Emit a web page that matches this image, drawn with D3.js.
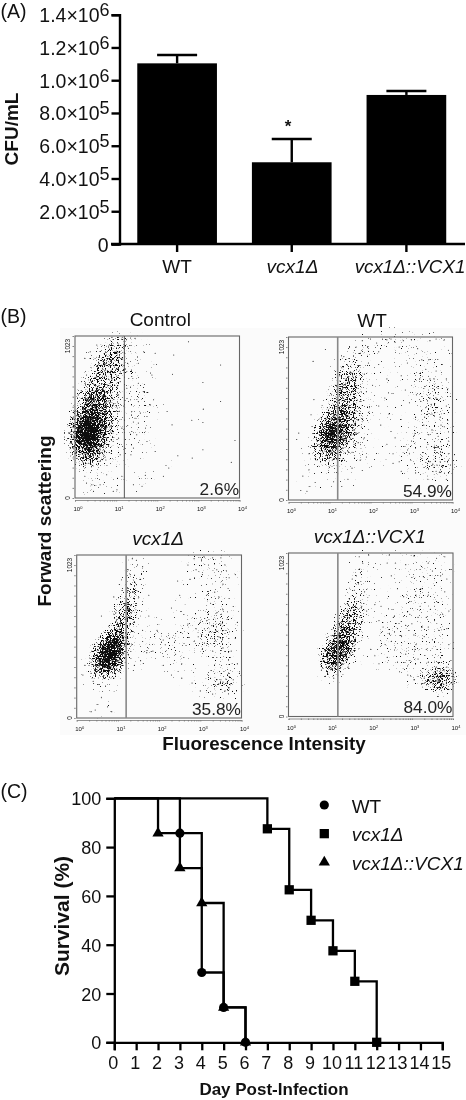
<!DOCTYPE html>
<html>
<head>
<meta charset="utf-8">
<script src="https://cdn.jsdelivr.net/npm/d3@7"></script>
<style>
html, body { margin: 0; padding: 0; background: #fff; }
svg { display: block; filter: blur(0.35px); }
text { font-family: "Liberation Sans", Arial, sans-serif; fill: #111; }
</style>
</head>
<body>
<div id="chart"></div>
<script>
// (A) colony counts
var strains = ["WT", "vcx1Δ", "vcx1Δ::VCX1"];
var cfuMeans = [1103000, 499000, 910000];
var cfuErrors = [51000, 142000, 24000];
var cfuTicks = [0, 200000, 400000, 600000, 800000, 1000000, 1200000, 1400000];
var cfuTickLabels = ["0", "2.0×10|5", "4.0×10|5", "6.0×10|5", "8.0×10|5", "1.0×10|6", "1.2×10|6", "1.4×10|6"];

// (B) flow cytometry, [log10 fluorescence, forward scatter channel]
// not every event can be read, so these are estimates of the visible dots:
// "core" traces the dense cloud (drawn as density), "dots" the loose events
var facsTitles = ["Control", "WT", "vcx1Δ", "vcx1Δ::VCX1"];
var facsPercents = ["2.6%", "54.9%", "35.8%", "84.0%"];
var controlCore = [[0.12,330],[0.20,300],[0.30,270],[0.40,290],[0.15,400],[0.25,380],[0.35,400],[0.45,370],[0.55,340],[0.10,450],[0.20,470],[0.30,450],[0.32,420],[0.28,400],[0.38,450],[0.50,430],[0.62,400],[0.25,520],[0.35,510],[0.45,500],[0.55,480],[0.70,450],[0.30,570],[0.42,570],[0.55,560],[0.68,530],[0.38,620],[0.50,630],[0.62,620],[0.80,570],[0.48,680],[0.60,700],[0.72,680],[0.90,640],[0.60,760],[0.72,780],[0.85,740],[0.72,840],[0.85,860],[0.98,820],[0.85,930],[0.98,960],[1.10,900],[1.00,1000],[0.28,440],[0.33,430],[0.24,410],[0.36,380],[0.30,340],[0.18,360],[0.42,460],[0.75,560],[0.85,500],[0.95,450],[0.65,350],[0.5,290],[0.8,420],[0.1,300],[0.05,420],[0.05,360],[0.7,620],[0.95,720],[1.05,800],[1.1,960],[1.0,880],[0.8,800],[0.7,900],[0.55,640],[0.4,520],[0.15,250],[0.3,220],[0.45,240],[0.6,280],[0.08,520],[0.15,580],[0.22,650],[0.32,720],[0.42,790],[0.55,850]];
var controlDots = [[2.76,987],[2.40,903],[3.54,840],[2.37,781],[3.11,729],[3.54,609],[3.12,561],[2.84,491],[3.11,477],[2.36,462],[2.24,546],[3.89,363],[3.11,305],[2.85,252],[3.80,225],[2.50,267],[2.28,189],[2.15,137],[1.71,143],[1.63,74],[1.42,84],[1.87,777],[1.95,914],[1.67,924],[1.46,1008],[1.30,945],[1.54,851],[1.38,767],[1.26,693],[1.54,725],[1.67,672],[1.30,609],[1.54,609],[1.91,620],[1.83,588],[1.38,546],[1.75,515],[1.59,536],[1.46,504],[1.54,473],[1.38,420],[1.75,357],[1.42,315],[1.36,273],[1.50,399],[1.95,294],[0.28,94],[0.41,84],[0.77,147],[0.93,42],[1.02,52],[1.14,137],[0.45,42],[0.24,137],[0.61,84],[1.10,273],[1.06,378],[0.98,504],[1.14,441],[0.93,588],[1.06,651],[1.10,735],[1.02,819],[1.14,882],[0.61,231],[0.69,273],[0.89,294],[0.77,378],[0.93,357],[0.08,651],[0.16,735],[0.24,882],[0.28,777],[0.53,966],[0.37,924],[1.25,1000],[1.35,1010],[1.15,1015],[0.9,1015],[1.28,850],[1.35,620],[1.42,480],[0.05,250],[0.03,380],[0.05,520],[0.75,240],[0.85,450],[1.02,700]];
var wtCore = [[0.8,300],[0.95,280],[1.1,260],[1.2,290],[0.75,370],[0.9,360],[1.05,350],[1.2,350],[1.35,340],[0.8,430],[0.95,430],[1.05,430],[1.1,410],[1.0,400],[1.2,430],[1.35,420],[0.95,490],[1.08,480],[1.2,490],[1.35,480],[1.5,470],[1.05,540],[1.2,550],[1.35,540],[1.5,530],[1.15,600],[1.28,610],[1.42,600],[1.55,580],[1.3,660],[1.42,670],[1.55,650],[1.4,730],[1.52,740],[1.65,710],[1.5,800],[1.6,820],[1.72,780],[1.02,440],[1.08,390],[0.98,370],[1.12,450],[0.7,300],[1.45,370],[1.5,420],[0.85,240],[1.25,240],[1.6,500],[1.65,620],[1.2,700],[1.35,800],[1.6,900],[1.7,960],[1.45,880]];
var wtDots = [[0.3,60],[0.45,55],[0.65,110],[0.35,150],[0.5,190],[0.2,380],[0.25,420],[0.55,535],[0.62,630],[0.6,870],[0.9,945],[0.75,335],[0.5,290],[0.65,260],[1.1,115],[1.2,165],[1.3,85],[1.45,130],[1.55,200],[1.8,185],[1.75,250],[1.9,270],[1.7,360],[1.85,390],[1.6,440],[1.8,510],[1.95,550],[1.75,620],[1.9,680],[2.05,720],[1.85,790],[1.95,860],[1.75,920],[1.65,960],[1.8,1000],[2.0,1010],[2.15,985],[2.2,930],[2.2,850],[2.4,760],[2.35,640],[2.2,590],[2.45,540],[2.25,470],[2.5,430],[2.4,350],[2.6,390],[2.55,290],[2.7,240],[2.55,230],[2.75,180],[2.95,290],[3.0,370],[3.05,400],[3.1,520],[2.95,610],[2.85,690],[2.75,780],[2.9,860],[2.7,960],[2.8,1000],[3.0,1005],[3.15,950],[3.25,880],[3.35,820],[3.2,760],[3.3,700],[3.45,760],[3.6,810],[3.75,850],[3.9,940],[3.85,760],[3.75,700],[3.6,640],[3.45,640],[3.35,580],[3.5,540],[3.7,520],[3.85,590],[3.95,650],[3.3,470],[3.5,440],[3.65,400],[3.8,460],[3.9,370],[3.4,350],[3.55,330],[3.75,300],[3.9,290],[3.25,260],[3.35,235],[3.45,240],[3.52,225],[3.58,245],[3.62,220],[3.7,240],[3.55,205],[3.78,215],[3.9,250],[3.95,220],[3.1,170],[3.4,130],[3.6,180],[3.85,130],[2.4,1005],[2.5,1010],[2.6,990],[3.45,1000],[3.6,1010],[3.8,1005],[1.55,300],[1.6,350],[1.65,420],[1.7,500],[1.65,560],[1.7,700],[1.3,830],[1.35,900],[1.25,780],[1.15,720],[1.05,660],[0.95,580],[3.42,880],[3.52,700],[3.22,620],[3.62,580],[3.32,520],[3.42,410],[3.12,660],[3.72,470],[3.48,600],[3.65,700],[3.55,760]];
var vcxCore = [[0.55,300],[0.65,290],[0.75,300],[0.5,340],[0.62,350],[0.72,340],[0.85,340],[0.6,390],[0.7,400],[0.8,390],[0.92,380],[0.75,440],[0.85,450],[0.95,430],[1.03,420],[0.85,500],[0.95,500],[1.05,490],[1.12,470],[0.95,550],[1.05,560],[1.15,540],[1.05,610],[1.15,620],[1.25,600],[1.2,680],[1.28,670],[1.3,740],[1.36,760],[1.42,820],[0.7,360],[0.78,370],[0.68,330],[0.88,420],[0.82,420],[1.35,860],[1.45,900],[1.5,960],[1.25,720],[1.12,660],[0.75,380],[0.8,430],[0.72,410],[0.85,470],[0.9,470]];
var vcxDots = [[0.2,330],[0.15,270],[0.35,350],[0.35,280],[0.4,230],[0.55,210],[0.7,200],[0.9,250],[0.6,130],[0.45,50],[0.75,70],[0.85,40],[0.35,40],[1.05,300],[1.18,350],[1.25,400],[1.4,330],[1.55,360],[1.7,410],[1.85,420],[1.6,480],[1.5,530],[1.4,600],[1.6,550],[1.75,640],[1.5,760],[1.55,870],[1.6,950],[1.45,990],[1.35,1000],[1.3,900],[0.9,760],[0.6,640],[0.95,660],[1.1,800],[1.25,930],[1.75,770],[1.95,550],[2.1,490],[2.15,460],[2.25,500],[2.4,530],[2.3,430],[2.4,400],[2.6,380],[2.55,340],[2.1,330],[2.3,270],[2.55,250],[2.8,220],[3.0,170],[2.85,480],[2.9,560],[3.0,600],[2.95,510],[3.05,430],[3.1,560],[3.15,610],[3.1,470],[3.2,650],[3.22,540],[3.25,500],[3.28,580],[3.3,420],[3.32,620],[3.35,480],[3.38,550],[3.4,380],[3.4,660],[3.45,510],[3.5,590],[3.55,440],[3.55,680],[3.6,530],[3.65,620],[3.7,750],[3.25,720],[3.15,770],[3.35,790],[3.45,760],[3.55,840],[3.7,880],[3.85,900],[3.6,960],[3.4,930],[3.2,960],[3.05,900],[2.9,930],[2.75,870],[2.7,960],[2.85,1000],[3.1,1010],[3.3,1005],[3.5,1005],[3.8,700],[3.9,600],[3.85,500],[3.75,420],[3.9,340],[3.95,280],[3.8,240],[3.7,190],[3.6,170],[3.55,225],[3.45,215],[3.5,240],[3.58,210],[3.62,245],[3.65,220],[3.4,240],[3.35,210],[3.7,260],[3.3,150],[2.3,690],[2.5,770],[2.6,650],[2.45,860],[2.7,590]];
var compCore = [[0.95,320],[1.05,310],[1.15,300],[0.92,370],[1.02,370],[1.12,370],[1.22,360],[1.1,420],[1.2,420],[1.3,410],[1.38,400],[1.22,470],[1.32,470],[1.42,460],[1.3,530],[1.4,530],[1.5,510],[1.42,600],[1.5,600],[1.58,590],[1.5,660],[1.58,670],[1.65,640],[1.62,730],[1.7,740],[1.68,800],[1.75,860],[1.72,930],[3.5,225],[3.6,240],[3.65,215],[3.72,235],[3.78,255],[3.82,220],[3.7,195],[3.88,250],[3.6,275],[3.42,215],[1.2,400],[1.25,440],[1.3,490],[1.35,500],[1.45,560],[1.15,390],[1.08,350],[1.55,640]];
var compDots = [[0.8,290],[0.85,350],[0.95,270],[1.1,240],[1.2,260],[1.3,330],[1.45,310],[1.55,400],[1.6,470],[1.55,540],[1.7,580],[1.45,700],[1.6,790],[1.7,830],[1.65,880],[1.75,900],[1.8,960],[1.72,1000],[1.55,860],[1.35,660],[1.25,560],[1.85,780],[1.9,660],[1.78,690],[2.1,700],[2.25,690],[2.2,600],[2.3,560],[2.45,520],[2.5,470],[2.6,430],[2.35,450],[2.1,380],[2.0,420],[2.2,330],[2.4,370],[2.65,340],[2.85,390],[2.95,350],[2.7,280],[2.9,260],[3.05,230],[3.15,250],[2.55,620],[2.65,550],[2.75,500],[2.85,570],[2.95,640],[3.0,580],[3.05,510],[3.1,450],[3.15,620],[3.2,690],[3.25,560],[3.3,500],[3.35,420],[3.35,620],[3.4,560],[3.45,670],[3.5,480],[3.55,600],[3.6,720],[3.65,540],[3.7,400],[3.75,640],[3.8,780],[3.85,550],[3.9,450],[3.95,350],[3.9,660],[3.85,860],[3.7,880],[3.55,820],[3.4,760],[3.25,800],[3.1,760],[2.95,720],[2.8,750],[2.65,800],[2.5,880],[3.0,870],[3.2,920],[3.4,960],[3.6,990],[3.8,1000],[3.95,920],[2.6,960],[2.4,960],[2.85,950],[3.05,1005],[3.5,910],[3.3,870],[2.45,1010],[1.95,1010],[3.15,360],[3.4,340],[3.6,310],[3.85,310],[3.97,270],[3.95,210],[3.4,200],[3.45,250],[3.3,240],[3.9,170]];
var facsTicks = [0, 0.301, 0.477, 0.602, 0.699, 0.778, 0.845, 0.903, 0.954, 1, 1.301, 1.477, 1.602, 1.699, 1.778, 1.845, 1.903, 1.954, 2, 2.301, 2.477, 2.602, 2.699, 2.778, 2.845, 2.903, 2.954, 3, 3.301, 3.477, 3.602, 3.699, 3.778, 3.845, 3.903, 3.954, 4];
var facsDecades = [0, 1, 2, 3, 4];
var channelTicks = [0, 64, 128, 192, 256, 320, 384, 448, 512, 576, 640, 704, 768, 832, 896, 960, 1023];
var gateLog = 1.2;

// (C) survival
var days = [0, 1, 2, 3, 4, 5, 6, 7, 8, 9, 10, 11, 12, 13, 14, 15];
var survivalTicks = [0, 20, 40, 60, 80, 100];
var wtSteps = [[0,100],[3,85.7],[4,28.6],[5,14.3],[6,0]];
var vcxSteps = [[0,100],[7,87.5],[8,62.5],[9,50],[10,37.5],[11,25],[12,0]];
var compSteps = [[0,100],[2,85.7],[3,71.4],[4,57.1],[5,14.3],[6,0]];

var width = 466, height = 1100;
var svg = d3.select("#chart").append("svg").attr("width", width).attr("height", height);
var densityLevels = [0.003, 0.006, 0.01, 0.015, 0.021, 0.028, 0.036];
var grainCuts = [0.66, 0.6, 0.55, 0.5, 0.46, 0.42, 0.37];
var looseLevels = [0.003, 0.006, 0.011];
var looseCuts = [0.71, 0.67, 0.63];

var defs = svg.append("defs");
function addGrain(id, cut, seed) {
    var f = defs.append("filter").attr("id", id)
        .attr("color-interpolation-filters", "sRGB")
        .attr("x", "-5%").attr("y", "-5%").attr("width", "110%").attr("height", "110%");
    f.append("feTurbulence").attr("type", "fractalNoise").attr("baseFrequency", 0.85)
        .attr("numOctaves", 1).attr("seed", seed);
    f.append("feColorMatrix").attr("type", "matrix")
        .attr("values", "0 0 0 0 0.05  0 0 0 0 0.05  0 0 0 0 0.05  " + 14 + " 0 0 0 " + (-14 * cut));
    f.append("feComposite").attr("in2", "SourceGraphic").attr("operator", "in");
}
grainCuts.forEach(function(cut, i) { addGrain("grain" + i, cut, i + 2); });
looseCuts.forEach(function(cut, i) { addGrain("loose" + i, cut, i + 20); });

function label(x, y, str, size, opts) {
    opts = opts || {};
    var t = svg.append("text").attr("x", x).attr("y", y)
        .attr("font-size", size)
        .attr("text-anchor", opts.anchor || "middle")
        .attr("font-weight", opts.bold ? "bold" : "normal")
        .attr("font-style", opts.italic ? "italic" : "normal")
        .text(str);
    if (opts.rotate) t.attr("transform", "rotate(-90 " + x + " " + y + ")");
    return t;
}

function drawPanelA() {
    var x = d3.scaleBand().domain(strains).range([119.5, 464]).paddingInner(0.305).paddingOuter(0.155);
    var y = d3.scaleLinear().domain([0, 1400000]).range([244, 14.7]);
    var g = svg.append("g");

    g.selectAll("rect.bar").data(strains).enter().append("rect")
        .attr("class", "bar")
        .attr("x", function(d) { return x(d); })
        .attr("y", function(d, i) { return y(cfuMeans[i]); })
        .attr("width", x.bandwidth())
        .attr("height", function(d, i) { return y(0) - y(cfuMeans[i]); })
        .attr("fill", "#000");

    g.selectAll("line.err").data(strains).enter().append("line")
        .attr("class", "err")
        .attr("x1", function(d) { return x(d) + x.bandwidth() / 2; })
        .attr("x2", function(d) { return x(d) + x.bandwidth() / 2; })
        .attr("y1", function(d, i) { return y(cfuMeans[i]); })
        .attr("y2", function(d, i) { return y(cfuMeans[i] + cfuErrors[i]); })
        .attr("stroke", "#000").attr("stroke-width", 2.4);
    g.selectAll("line.cap").data(strains).enter().append("line")
        .attr("class", "cap")
        .attr("x1", function(d) { return x(d) + x.bandwidth() / 2 - 20; })
        .attr("x2", function(d) { return x(d) + x.bandwidth() / 2 + 20; })
        .attr("y1", function(d, i) { return y(cfuMeans[i] + cfuErrors[i]); })
        .attr("y2", function(d, i) { return y(cfuMeans[i] + cfuErrors[i]); })
        .attr("stroke", "#000").attr("stroke-width", 2.4);

    var left = g.append("g").attr("transform", "translate(119.5,0)")
        .call(d3.axisLeft(y).tickValues(cfuTicks).tickSize(8).tickPadding(3).tickFormat(function() { return ""; }));
    left.selectAll("line, path").attr("stroke", "#000").attr("stroke-width", 2.4);
    left.selectAll(".tick").each(function(d, i) {
        var parts = cfuTickLabels[i].split("|");
        var t = d3.select(this).select("text")
            .attr("x", parts[1] ? -10 : -11)
            .attr("y", 0)
            .attr("dy", 7)
            .attr("font-size", 19.5)
            .attr("fill", "#111");
        t.text(null);
        t.append("tspan").text(parts[0]);
        if (parts[1]) t.append("tspan").attr("dy", -6).attr("font-size", 18).text(parts[1]);
    });

    var bottom = g.append("g").attr("transform", "translate(0,244)")
        .call(d3.axisBottom(x).tickSize(8).tickFormat(function() { return ""; }));
    bottom.select("path").attr("d", "M111,0H465");
    bottom.selectAll("line, path").attr("stroke", "#000").attr("stroke-width", 2.4);

    label(177, 273, "WT", 19);
    label(292.5, 273, "vcx1Δ", 19, { italic: true });
    label(410, 273, "vcx1Δ::VCX1", 18.8, { italic: true });
    label(288, 132, "*", 17, { bold: true });
    label(18, 129, "CFU/mL", 19, { bold: true, rotate: true });
    label(0.5, 18, "(A)", 19.5, { anchor: "start" });
}

function drawFacs(i, box, core, dots) {
    var x = d3.scaleLinear().domain([0, 4]).range([box.left, box.right]);
    var y = d3.scaleLinear().domain([0, 1023]).range([box.bottom, box.top]);
    var g = svg.append("g");
    var plot = g.append("g").attr("transform", "translate(" + box.left + "," + box.top + ")");

    function density(points, bandwidth, levels) {
        return d3.contourDensity()
            .x(function(d) { return x(d[0]) - box.left; })
            .y(function(d) { return y(d[1]) - box.top; })
            .size([box.right - box.left, box.bottom - box.top])
            .bandwidth(bandwidth)
            .thresholds(levels)(points);
    }

    plot.append("g").selectAll("path").data(density(dots, 9, looseLevels)).enter().append("path")
        .attr("d", d3.geoPath())
        .attr("fill", "#000")
        .attr("filter", function(d) { return "url(#loose" + looseLevels.indexOf(d.value) + ")"; });
    plot.append("g").selectAll("path").data(density(core, 6.5, densityLevels)).enter().append("path")
        .attr("d", d3.geoPath())
        .attr("fill", "#000")
        .attr("filter", function(d) { return "url(#grain" + densityLevels.indexOf(d.value) + ")"; });

    g.selectAll("circle.ev").data(dots).enter().append("circle")
        .attr("class", "ev")
        .attr("cx", function(d) { return x(d[0]); })
        .attr("cy", function(d) { return y(d[1]); })
        .attr("r", 0.55)
        .attr("fill", "#222");

    g.append("rect").attr("x", box.left).attr("y", box.top)
        .attr("width", box.right - box.left).attr("height", box.bottom - box.top)
        .attr("fill", "none").attr("stroke", "#666").attr("stroke-width", 1.1);
    g.append("line").attr("x1", x(gateLog)).attr("x2", x(gateLog))
        .attr("y1", box.top).attr("y2", box.bottom)
        .attr("stroke", i === 0 ? "#555" : "#888").attr("stroke-width", i === 0 ? 1 : 1.6);

    var bottom = g.append("g").attr("transform", "translate(0," + (box.bottom + 2) + ")")
        .call(d3.axisBottom(x).tickValues(facsTicks).tickSize(1.5).tickFormat(function() { return ""; }));
    bottom.selectAll("line, path").attr("stroke", "#777").attr("stroke-width", 0.8);
    bottom.selectAll("text").remove();
    var left = g.append("g").attr("transform", "translate(" + (box.left - 1) + ",0)")
        .call(d3.axisLeft(y).tickValues(channelTicks).tickSize(1.5).tickFormat(function() { return ""; }));
    left.select("path").remove();
    left.selectAll("line").attr("stroke", "#666").attr("stroke-width", 0.8);
    left.selectAll("text").remove();

    facsDecades.forEach(function(d) {
        var t = g.append("text").attr("x", x(d) + 3).attr("y", box.bottom + 13)
            .attr("text-anchor", "middle").attr("font-size", 6).attr("fill", "#444").text("10");
        t.append("tspan").attr("dy", -2).attr("font-size", 4).text(d);
    });
    g.append("text").attr("transform", "translate(" + (box.left - 5) + "," + (box.top + 10) + ") rotate(-90)")
        .attr("text-anchor", "middle").attr("font-size", 6.5).attr("fill", "#444").text("1023");
    g.append("text").attr("transform", "translate(" + (box.left - 5) + "," + box.bottom + ") rotate(-90)")
        .attr("text-anchor", "middle").attr("font-size", 6.5).attr("fill", "#444").text("0");

    label(box.right - 0.5, box.bottom - 3.5, facsPercents[i], 17.3, { anchor: "end" }).style("fill", "#222");
    label((box.left + box.right) / 2 + box.titleShift, box.top - 10, facsTitles[i], 19, { italic: i >= 2 });
}

function drawPanelB() {
    svg.append("rect").attr("x", 60).attr("y", 328).attr("width", 406).attr("height", 407).attr("fill", "#fbfbfb");
    drawFacs(0, { left: 75, right: 239.5, top: 336, bottom: 498, titleShift: 3 }, controlCore, controlDots);
    drawFacs(1, { left: 288.5, right: 452.5, top: 337, bottom: 500, titleShift: 1.5 }, wtCore, wtDots);
    drawFacs(2, { left: 76.7, right: 241.5, top: 555, bottom: 718, titleShift: -1 }, vcxCore, vcxDots);
    drawFacs(3, { left: 288.5, right: 453, top: 553, bottom: 716.5, titleShift: -1 }, compCore, compDots);
    label(0.5, 323, "(B)", 19.5, { anchor: "start" });
    label(51, 521, "Forward scattering", 19, { bold: true, rotate: true });
    label(264, 750, "Fluorescence Intensity", 18.8, { bold: true });
}

function drawPanelC() {
    var x = d3.scaleLinear().domain([0, 15]).range([114.3, 442.3]);
    var y = d3.scaleLinear().domain([0, 100]).range([1042.3, 798.3]);
    var g = svg.append("g");
    var step = d3.line().x(function(d) { return x(d[0]); }).y(function(d) { return y(d[1]); }).curve(d3.curveStepAfter);

    [wtSteps, vcxSteps, compSteps].forEach(function(s) {
        g.append("path").attr("d", step(s)).attr("fill", "none").attr("stroke", "#000").attr("stroke-width", 2.3);
    });

    var left = g.append("g").attr("transform", "translate(114.3,0)")
        .call(d3.axisLeft(y).tickValues(survivalTicks).tickSize(8).tickPadding(5));
    var bottom = g.append("g").attr("transform", "translate(0,1042.3)")
        .call(d3.axisBottom(x).tickValues(days).tickSize(8).tickPadding(7).tickFormat(d3.format("d")));
    left.selectAll("line, path").attr("stroke", "#000").attr("stroke-width", 2.3);
    bottom.selectAll("line, path").attr("stroke", "#000").attr("stroke-width", 2.3);
    left.selectAll("text").attr("font-size", 18).attr("fill", "#111").attr("dy", 6.5);
    bottom.selectAll("text").attr("font-size", 18).attr("fill", "#111").attr("dx", -1.5).attr("dy", 12);

    var symbols = [d3.symbolCircle, d3.symbolSquare, d3.symbolTriangle];
    var sizes = [66, 86, 55];
    var series = [wtSteps.slice(1), vcxSteps.slice(1), compSteps.slice(1)];
    series.forEach(function(s, k) {
        g.selectAll("path.m" + k).data(s).enter().append("path")
            .attr("class", "m" + k)
            .attr("d", d3.symbol().type(symbols[k]).size(sizes[k]))
            .attr("transform", function(d) { return "translate(" + x(d[0]) + "," + y(d[1]) + ")"; })
            .attr("fill", "#000");
    });

    var legendY = d3.scalePoint().domain(strains).range([805, 862.3]);
    strains.forEach(function(name, k) {
        g.append("path").attr("d", d3.symbol().type(symbols[k]).size(sizes[k]))
            .attr("transform", "translate(324.3," + legendY(name) + ")").attr("fill", "#000");
        label(351.7, legendY(name) + 7.5, name, 19, { anchor: "start", italic: k > 0 });
    });

    label(274, 1095, "Day Post-Infection", 17, { bold: true });
    label(69, 916, "Survival (%)", 21, { bold: true, rotate: true });
    label(0.5, 798, "(C)", 19.5, { anchor: "start" });
}

drawPanelA();
drawPanelB();
drawPanelC();
</script>
</body>
</html>
